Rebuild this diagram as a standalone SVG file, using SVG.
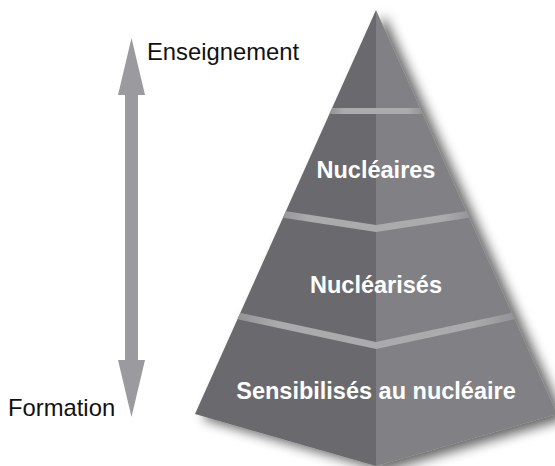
<svg xmlns="http://www.w3.org/2000/svg" width="555" height="466" viewBox="0 0 555 466">
  <style>
    .face-l { fill: #6a6a6e; }
    .face-r { fill: #818185; }
    .band { fill: url(#bandGrad); }
    .tier { font-family: "Liberation Sans", Arial, sans-serif; font-weight: bold; font-size: 23.5px; fill: #ffffff; text-anchor: middle; }
    .side { font-family: "Liberation Sans", Arial, sans-serif; font-size: 23.8px; fill: #111111; }
    .arrow { fill: #9b9b9f; }
  </style>
  <defs>
    <filter id="softShadow" x="-20%" y="-20%" width="150%" height="150%">
      <feGaussianBlur in="SourceAlpha" stdDeviation="6"/>
      <feOffset dx="8" dy="5" result="blur"/>
      <feComponentTransfer>
        <feFuncA type="linear" slope="0.6"/>
      </feComponentTransfer>
      <feMerge>
        <feMergeNode/>
        <feMergeNode in="SourceGraphic"/>
      </feMerge>
    </filter>
    <linearGradient id="bandGrad" x1="0" y1="0" x2="1" y2="0">
      <stop offset="0" stop-color="#8c8c90"/>
      <stop offset="0.18" stop-color="#ababae"/>
      <stop offset="0.82" stop-color="#ababae"/>
      <stop offset="1" stop-color="#8c8c90"/>
    </linearGradient>
    <clipPath id="pyrClip">
      <polygon points="376,10 195,414 376,466 557,414"/>
    </clipPath>
  </defs>

  <!-- pyramid body: dark left face, lighter right face -->
  <g id="pyramid" filter="url(#softShadow)">
    <polygon class="face-l" points="376,10 195,414 376,466"/>
    <polygon class="face-r" points="376,10 376,466 557,414"/>
  </g>

  <!-- seams between tiers -->
  <g id="seams" clip-path="url(#pyrClip)">
    <rect class="band" x="326" y="108" width="100" height="6"/>
    <polygon class="band" points="270,208.7 376,225 482,208.7 482,215.7 376,232 270,215.7"/>
    <polygon class="band" points="225,309.5 376,342 527,309.5 527,316.5 376,349 225,316.5"/>
  </g>

  <g id="tier-nucleaires">
    <text class="tier" x="376" y="178">Nucléaires</text>
  </g>
  <g id="tier-nuclearises">
    <text class="tier" x="376" y="293">Nucléarisés</text>
  </g>
  <g id="tier-sensibilises">
    <text class="tier" x="376" y="399">Sensibilisés au nucléaire</text>
  </g>

  <!-- double-headed scale arrow -->
  <g id="connectors">
    <polygon class="arrow" points="131.5,38 145,95 138,95 138,360 145,360 131.5,417 118,360 125,360 125,95 118,95"/>
  </g>

  <g id="label-enseignement">
    <text class="side" x="147" y="60">Enseignement</text>
  </g>
  <g id="label-formation">
    <text class="side" x="8" y="416">Formation</text>
  </g>
</svg>
